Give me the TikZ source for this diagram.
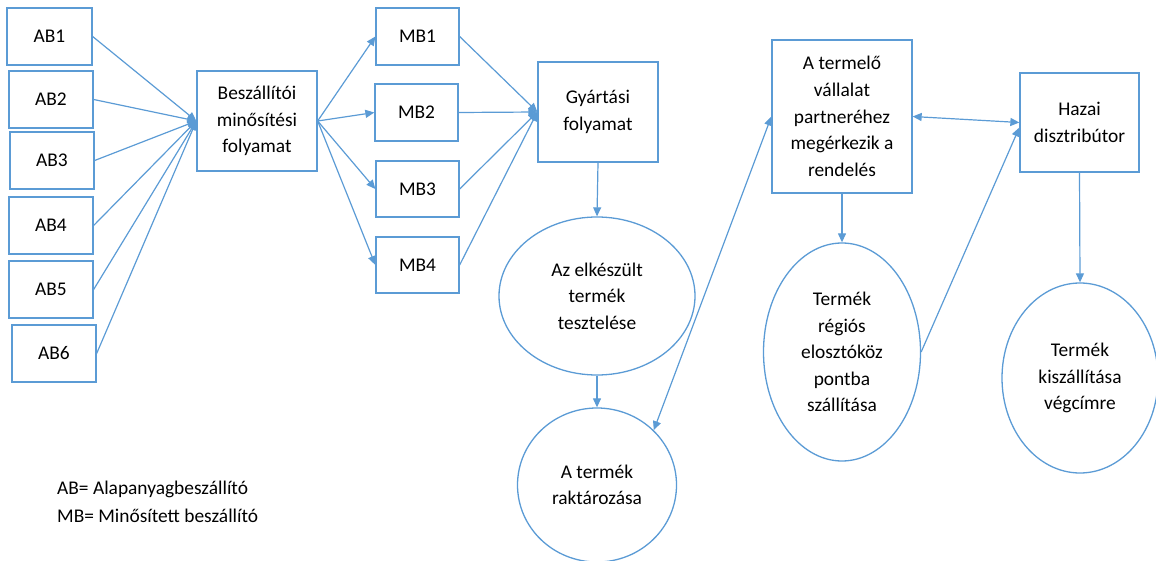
\documentclass[tikz,border=0pt]{standalone}
\usepackage{fontspec}
\setmainfont{Carlito}
\usetikzlibrary{shapes.geometric,arrows.meta,calc}
\definecolor{lineblue}{HTML}{5B9BD5}
\tikzset{
  box/.style={draw=lineblue, line width=1.3pt, rectangle, inner sep=2pt, align=center, text=black},
  oval/.style={draw=lineblue, line width=1.3pt, ellipse, inner sep=0pt, align=center, text=black},
  conn/.style={draw=lineblue, line width=1.2pt, -{Triangle[length=9pt,width=8pt]}},
  conn2/.style={draw=lineblue, line width=1.2pt, {Triangle[length=9pt,width=8pt]}-{Triangle[length=9pt,width=8pt]}},
  legend/.style={anchor=base west, inner sep=0pt, text=black}
}
\begin{document}
\begin{tikzpicture}[x=1pt,y=-1pt,font=\fontsize{19.4}{26.6}\selectfont]
\useasboundingbox (0,0) rectangle (1156,561);
\node[box, minimum width=85, minimum height=57] (ab1) at (49.5,36.5) {AB1};
\node[box, minimum width=84, minimum height=57] (ab2) at (51,99.5) {AB2};
\node[box, minimum width=84, minimum height=57] (ab3) at (52,160.5) {AB3};
\node[box, minimum width=84, minimum height=57] (ab4) at (51,225.5) {AB4};
\node[box, minimum width=84, minimum height=57] (ab5) at (51,289.5) {AB5};
\node[box, minimum width=84, minimum height=57] (ab6) at (54,353.5) {AB6};
\node[box, minimum width=120, minimum height=100] (besz) at (257,121) {Beszállítói\\minősítési\\folyamat};
\node[box, minimum width=83, minimum height=57] (mb1) at (417.5,36.5) {MB1};
\node[box, minimum width=83, minimum height=57] (mb2) at (416.5,112.5) {MB2};
\node[box, minimum width=83, minimum height=56] (mb3) at (417.5,189) {MB3};
\node[box, minimum width=83, minimum height=56] (mb4) at (417.5,265) {MB4};
\node[box, minimum width=120, minimum height=100] (gyart) at (598,112) {Gyártási\\folyamat};
\node[oval, minimum width=196, minimum height=158] (elk) at (597,296) {Az elkészült\\termék\\tesztelése};
\node[oval, minimum width=159, minimum height=154] (rakt) at (597,485) {A termék\\raktározása};
\node[box, minimum width=140, minimum height=153] (term) at (842,116.5) {A termelő\\vállalat\\partneréhez\\megérkezik a\\rendelés};
\node[box, minimum width=119, minimum height=99] (hazai) at (1079.5,122.5) {Hazai\\disztribútor};
\node[oval, minimum width=157, minimum height=218] (reg) at (842,352) {Termék\\régiós\\elosztóköz\\pontba\\szállítása};
\node[oval, minimum width=156, minimum height=190] (kisz) at (1080,378) {Termék\\kiszállítása\\végcímre};
\node[legend] (lg1) at (57,494) {AB= Alapanyagbeszállító};
\node[legend] (lg2) at (57,522) {MB= Minősített beszállító};
\foreach \i in {1,...,6} {\draw[conn] (ab\i.east) -- (besz.west);}
\foreach \i in {1,...,4} {\draw[conn] (besz.east) -- (mb\i.west);}
\foreach \i in {1,...,4} {\draw[conn] (mb\i.east) -- (gyart.west);}
\draw[conn] (gyart.south) -- (elk.north);
\draw[conn] (elk.south) -- (rakt.north);
\draw[conn2] (rakt.44) -- (term.west);
\draw[conn2] (term.east) -- (hazai.west);
\draw[conn] (term.south) -- (reg.north);
\draw[conn] (reg.east) -- ([yshift=-5pt]hazai.west);
\draw[conn] (hazai.south) -- (kisz.north);
\end{tikzpicture}
\end{document}
